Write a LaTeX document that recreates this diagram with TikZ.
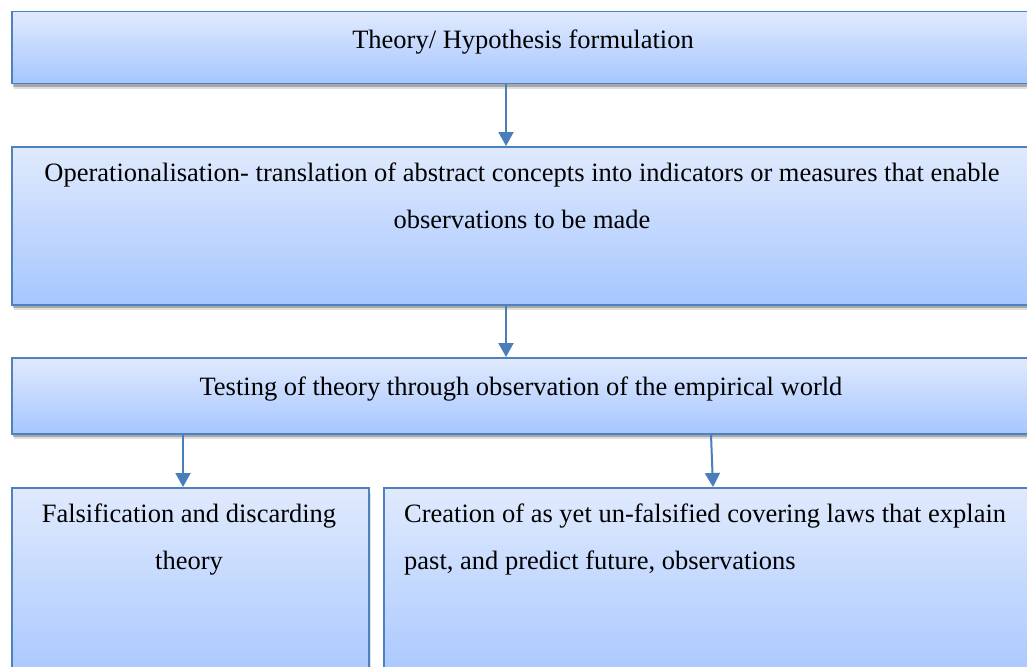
\documentclass[tikz,border=0pt]{standalone}
\usepackage{fontspec}
\setmainfont{Liberation Serif}
\usetikzlibrary{arrows.meta,shadows}
\definecolor{boxtop}{RGB}{224,234,253}
\definecolor{boxbot}{RGB}{166,198,255}
\definecolor{boxline}{RGB}{79,129,189}
\definecolor{arrowc}{RGB}{74,126,187}
\tikzset{
  box/.style={draw=boxline, line width=1.5pt, top color=boxtop, bottom color=boxbot,
    inner sep=0pt, anchor=north west,
    drop shadow={shadow xshift=2pt, shadow yshift=-5pt, opacity=0.12, fill=black},
    drop shadow={shadow xshift=1.5pt, shadow yshift=-3pt, opacity=0.25, fill=black}},
  txt/.style={inner sep=0pt, font=\fontsize{26.5}{47}\selectfont},
  arr/.style={draw=arrowc, line width=2pt, -{Triangle[width=15pt,length=14pt]}}
}
\begin{document}
\begin{tikzpicture}[x=1pt,y=-1pt]
\useasboundingbox[fill=white] (0,0) rectangle (1027,666);
\node[box, minimum width=1023pt, minimum height=72pt] (b1) at (11,11) {};
\node[box, minimum width=1023pt, minimum height=158pt] (b2) at (11,146) {};
\node[box, minimum width=1023pt, minimum height=76pt] (b3) at (11,357) {};
\node[box, minimum width=357pt, minimum height=200pt] (b4) at (11,487) {};
\node[box, minimum width=651pt, minimum height=200pt] (b5) at (383,487) {};

\node[txt, anchor=base] (t1) at (523,49) {Theory/ Hypothesis formulation};
\node[txt, anchor=north, align=center] (t2) at (522,163) {Operationalisation- translation of abstract concepts into indicators or measures that enable\\observations to be made};
\node[txt, anchor=base] (t3) at (521,395) {Testing of theory through observation of the empirical world};
\node[txt, anchor=north, align=center] (t4) at (189,504) {Falsification and discarding\\theory};
\node[txt, anchor=north west, align=left] (t5) at (404,504) {Creation of as yet un-falsified covering laws that explain\\past, and predict future, observations};

\draw[arr] ([xshift=495pt]b1.south west) -- ([xshift=495pt]b2.north west);
\draw[arr] ([xshift=495pt]b2.south west) -- ([xshift=495pt]b3.north west);
\draw[arr] ([xshift=172pt]b3.south west) -- ([xshift=172pt]b4.north west);
\draw[arr] ([xshift=700pt]b3.south west) -- ([xshift=330pt]b5.north west);
\end{tikzpicture}
\end{document}
